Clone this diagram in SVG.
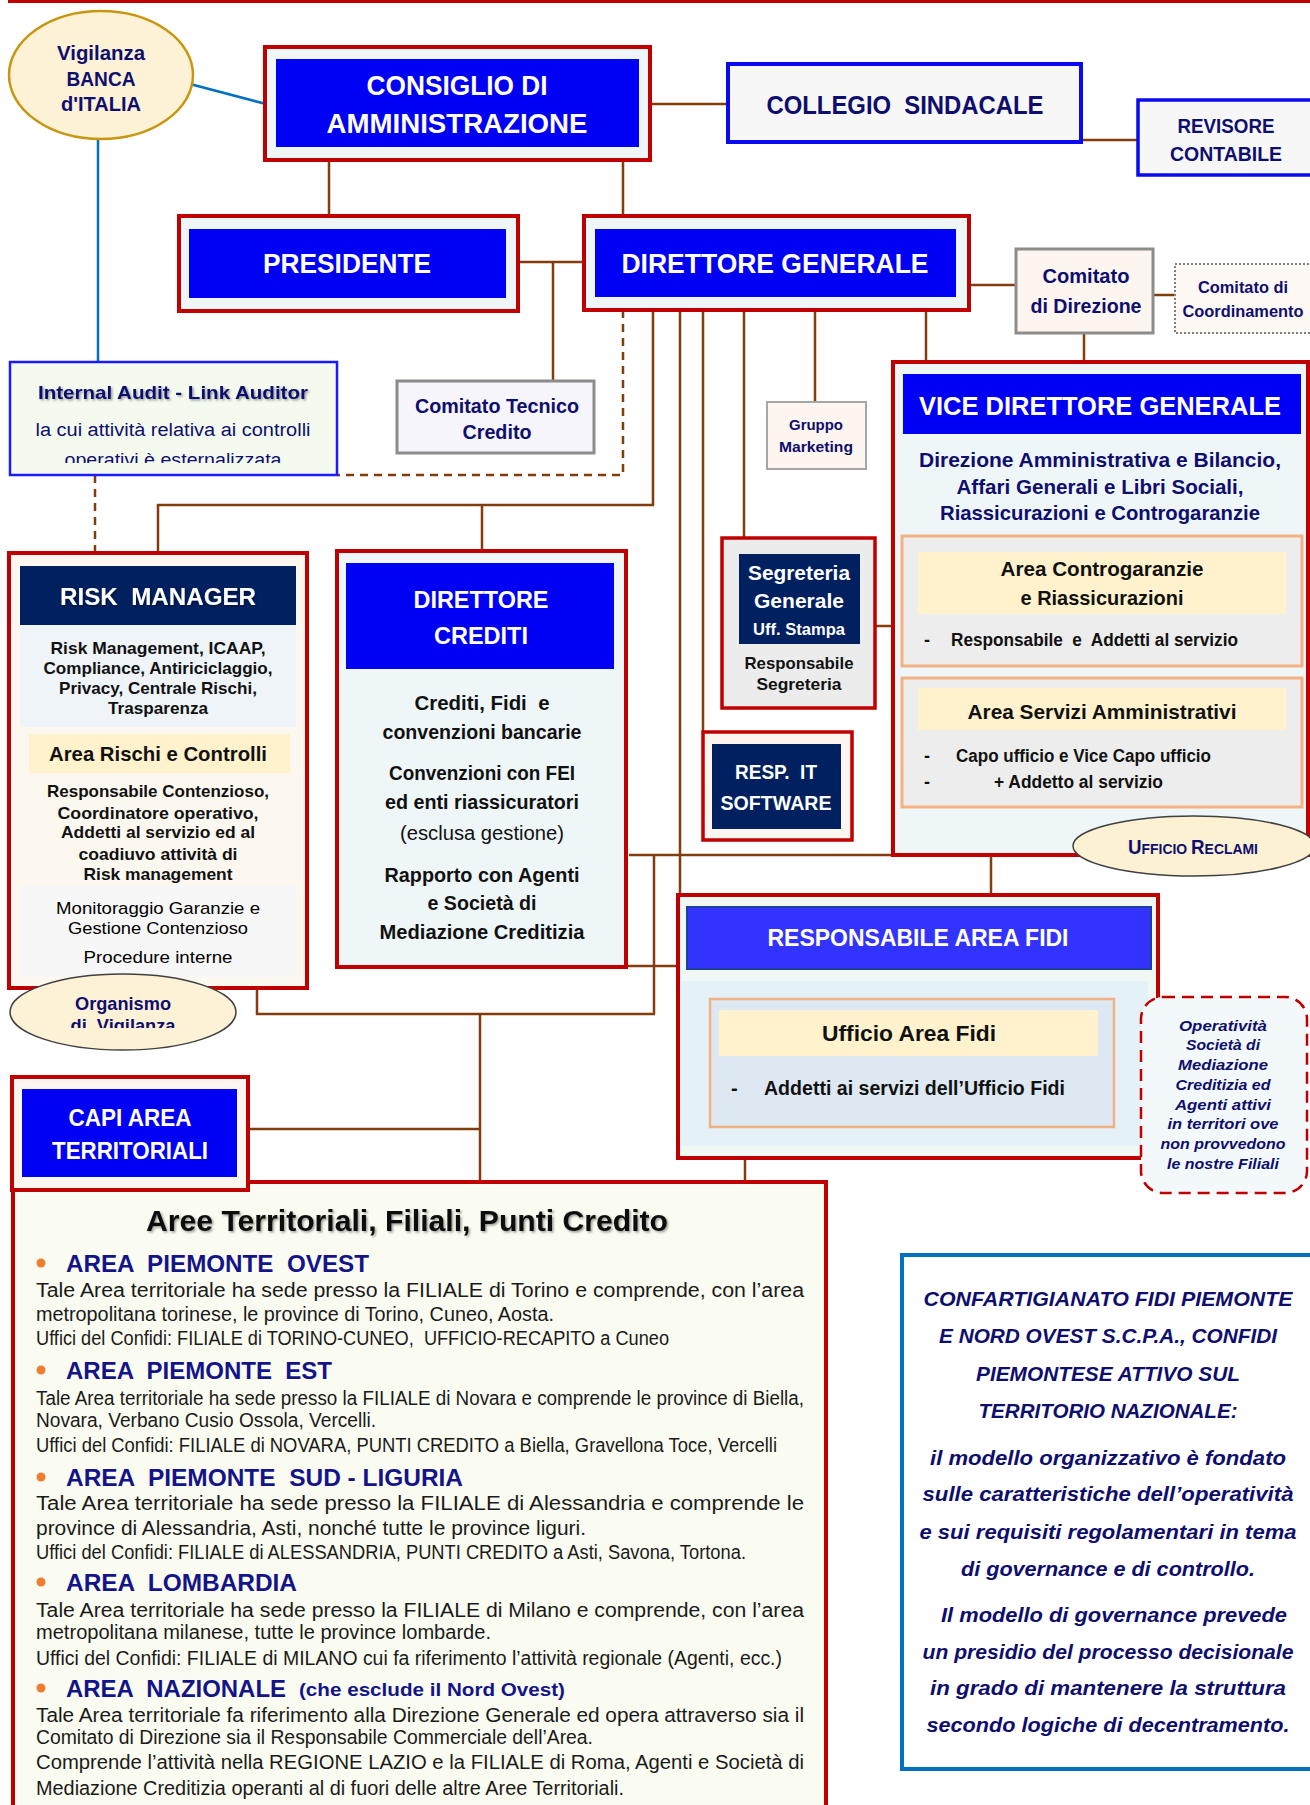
<svg xmlns="http://www.w3.org/2000/svg" width="1310" height="1805" viewBox="0 0 1310 1805">
<style>
.b{font-family:"Liberation Sans",Arial,sans-serif;font-weight:bold}
.r{font-family:"Liberation Sans",Arial,sans-serif;font-weight:normal}
.bi{font-family:"Liberation Sans",Arial,sans-serif;font-weight:bold;font-style:italic}
.c{text-anchor:middle;dominant-baseline:central}
.l{text-anchor:start;dominant-baseline:central}
.wh{fill:#ffffff}
.nv{fill:#0E0E6E}
.hd{fill:#14148A}
.bk{fill:#111111}
.tx{fill:#1A1A1A}
.con{stroke:#843C0C;stroke-width:2.5;fill:none}
.dash{stroke-dasharray:8 6}
.red{stroke:#C00000;stroke-width:4}
.blu{fill:#0000F5}
.navyf{fill:#002060}
.yel{fill:#FFF2CC}
.org{fill:#ED7D31}
</style>
<defs>
<filter id="sh" x="-10%" y="-30%" width="120%" height="160%">
<feDropShadow dx="1.5" dy="1.5" stdDeviation="1" flood-color="#000" flood-opacity="0.4"/>
</filter>
<clipPath id="clipIA"><rect x="10" y="362" width="327" height="101"/></clipPath>
<clipPath id="clipOV"><rect x="0" y="970" width="240" height="58"/></clipPath>
</defs>
<rect x="0" y="0" width="1310" height="1805" fill="#ffffff"/>
<rect x="8" y="0" width="1302" height="3" fill="#C00000"/>

<g id="connectors">
<line x1="190" y1="84" x2="266" y2="104" stroke="#0070C0" stroke-width="2.5"/>
<line x1="98" y1="140" x2="98" y2="362" stroke="#0070C0" stroke-width="2.5"/>
<line class="con" x1="650" y1="104" x2="728" y2="104"/>
<line class="con" x1="1081" y1="140" x2="1138" y2="140"/>
<line class="con" x1="329" y1="160" x2="329" y2="216"/>
<line class="con" x1="623" y1="160" x2="623" y2="216"/>
<line class="con" x1="518" y1="262" x2="584" y2="262"/>
<line class="con" x1="553" y1="262" x2="553" y2="381"/>
<line class="con" x1="969" y1="285" x2="1016" y2="285"/>
<line class="con" x1="1153" y1="295" x2="1175" y2="295"/>
<line class="con" x1="1084" y1="333" x2="1084" y2="362"/>
<polyline class="con dash" points="623,310 623,475 337,475"/>
<polyline class="con" points="653,310 653,505 158,505 158,553"/>
<line class="con" x1="482" y1="505" x2="482" y2="551"/>
<line class="con" x1="680" y1="310" x2="680" y2="895"/>
<line class="con" x1="703" y1="310" x2="703" y2="732"/>
<line class="con" x1="744" y1="310" x2="744" y2="538"/>
<line class="con" x1="815" y1="312" x2="815" y2="402"/>
<line class="con" x1="926" y1="310" x2="926" y2="362"/>
<line class="con dash" x1="95" y1="475" x2="95" y2="553"/>
<line class="con" x1="875" y1="626" x2="893" y2="626"/>
<line class="con" x1="629" y1="855" x2="893" y2="855"/>
<line class="con" x1="654" y1="855" x2="654" y2="1014"/>
<line class="con" x1="991" y1="855" x2="991" y2="895"/>
<line class="con" x1="618" y1="966" x2="679" y2="966"/>
<polyline class="con" points="257,988 257,1014 655,1014"/>
<line class="con" x1="480" y1="1014" x2="480" y2="1182"/>
<line class="con" x1="249" y1="1129" x2="480" y2="1129"/>
<line class="con" x1="745" y1="1158" x2="745" y2="1182"/>
</g>

<g id="vigilanza">
<ellipse cx="101" cy="75" rx="92" ry="64" fill="#FDF1D6" stroke="#C8960F" stroke-width="2.5"/>
<text class="b c nv" x="101" y="53" font-size="20" textLength="88" lengthAdjust="spacingAndGlyphs">Vigilanza</text>
<text class="b c nv" x="101" y="79" font-size="20" textLength="69" lengthAdjust="spacingAndGlyphs">BANCA</text>
<text class="b c nv" x="101" y="104" font-size="20" textLength="80" lengthAdjust="spacingAndGlyphs">d'ITALIA</text>
</g>

<g id="consiglio">
<rect x="265" y="47" width="385" height="113" fill="#EFF6F8" class="red"/>
<rect x="276" y="59" width="363" height="88" class="blu"/>
<text class="b c wh" x="457" y="86" font-size="27" textLength="181" lengthAdjust="spacingAndGlyphs">CONSIGLIO DI</text>
<text class="b c wh" x="457" y="124" font-size="27" textLength="261" lengthAdjust="spacingAndGlyphs">AMMINISTRAZIONE</text>
</g>

<g id="collegio">
<rect x="728" y="64" width="353" height="78" fill="#F7F7F7" stroke="#0A0AF0" stroke-width="4"/>
<text class="b c nv" x="905" y="105" font-size="26" textLength="277" lengthAdjust="spacingAndGlyphs" xml:space="preserve">COLLEGIO  SINDACALE</text>
</g>

<g id="revisore">
<rect x="1138" y="100" width="185" height="75" fill="#F7F7F7" stroke="#0A0AF0" stroke-width="3.5"/>
<text class="b c nv" x="1226" y="126" font-size="20" textLength="97" lengthAdjust="spacingAndGlyphs">REVISORE</text>
<text class="b c nv" x="1226" y="154" font-size="20" textLength="112" lengthAdjust="spacingAndGlyphs">CONTABILE</text>
</g>

<g id="presidente">
<rect x="179" y="216" width="339" height="95" fill="#EFF6F8" class="red"/>
<rect x="189" y="229" width="317" height="69" class="blu"/>
<text class="b c wh" x="347" y="264" font-size="27" textLength="168" lengthAdjust="spacingAndGlyphs">PRESIDENTE</text>
</g>

<g id="direttore-generale">
<rect x="584" y="216" width="385" height="94" fill="#EFF6F8" class="red"/>
<rect x="595" y="229" width="361" height="68" class="blu"/>
<text class="b c wh" x="775" y="264" font-size="27" textLength="307" lengthAdjust="spacingAndGlyphs">DIRETTORE GENERALE</text>
</g>

<g id="comitato-direzione">
<rect x="1016" y="249" width="137" height="84" fill="#FDF5EF" stroke="#8C8C8C" stroke-width="3"/>
<text class="b c nv" x="1086" y="276" font-size="20" textLength="87" lengthAdjust="spacingAndGlyphs">Comitato</text>
<text class="b c nv" x="1086" y="306" font-size="20" textLength="111" lengthAdjust="spacingAndGlyphs">di Direzione</text>
</g>

<g id="comitato-coordinamento">
<rect x="1175" y="264" width="145" height="69" fill="#FDF8F3" stroke="#808080" stroke-width="2" stroke-dasharray="2 2"/>
<text class="b c nv" x="1243" y="287" font-size="16" textLength="90" lengthAdjust="spacingAndGlyphs">Comitato di</text>
<text class="b c nv" x="1243" y="311" font-size="16" textLength="121" lengthAdjust="spacingAndGlyphs">Coordinamento</text>
</g>

<g id="internal-audit">
<rect x="10" y="362" width="327" height="113" fill="#F4FBEE" stroke="#1A1AFF" stroke-width="2.5"/>
<text class="b c nv" x="173" y="392" font-size="19" textLength="270" lengthAdjust="spacingAndGlyphs" filter="url(#sh)">Internal Audit - Link Auditor</text>
<text class="r c nv" x="173" y="430" font-size="18" textLength="275" lengthAdjust="spacingAndGlyphs">la cui attività relativa ai controlli</text>
<g clip-path="url(#clipIA)">
<text class="r c nv" x="173" y="460" font-size="18" textLength="217" lengthAdjust="spacingAndGlyphs">operativi è esternalizzata</text>
</g>
</g>

<g id="comitato-tecnico">
<rect x="397" y="381" width="197" height="72" fill="#F5F5FB" stroke="#8C8C8C" stroke-width="3"/>
<text class="b c nv" x="497" y="406" font-size="20" textLength="164" lengthAdjust="spacingAndGlyphs">Comitato Tecnico</text>
<text class="b c nv" x="497" y="432" font-size="20" textLength="69" lengthAdjust="spacingAndGlyphs">Credito</text>
</g>

<g id="gruppo-marketing">
<rect x="767" y="402" width="99" height="67" fill="#FDF5EF" stroke="#A6A6A6" stroke-width="2"/>
<text class="b c nv" x="816" y="424" font-size="15.5" textLength="54" lengthAdjust="spacingAndGlyphs">Gruppo</text>
<text class="b c nv" x="816" y="446" font-size="15.5" textLength="74" lengthAdjust="spacingAndGlyphs">Marketing</text>
</g>

<g id="vice-direttore">
<rect x="893" y="362" width="415" height="493" fill="#EFF6F8" class="red"/>
<rect x="903" y="374" width="398" height="60" class="blu"/>
<text class="b c wh" x="1100" y="406" font-size="26" textLength="362" lengthAdjust="spacingAndGlyphs">VICE DIRETTORE GENERALE</text>
<text class="b c nv" x="1100" y="459" font-size="20.5" textLength="362" lengthAdjust="spacingAndGlyphs">Direzione Amministrativa e Bilancio,</text>
<text class="b c nv" x="1100" y="486" font-size="20.5" textLength="287" lengthAdjust="spacingAndGlyphs">Affari Generali e Libri Sociali,</text>
<text class="b c nv" x="1100" y="512" font-size="20.5" textLength="320" lengthAdjust="spacingAndGlyphs">Riassicurazioni e Controgaranzie</text>
<rect x="902" y="536" width="400" height="130" fill="#EDEDED" stroke="#F4B183" stroke-width="3"/>
<rect x="918" y="552" width="368" height="62" class="yel"/>
<text class="b c bk" x="1102" y="568" font-size="21" textLength="203" lengthAdjust="spacingAndGlyphs">Area Controgaranzie</text>
<text class="b c bk" x="1102" y="597" font-size="21" textLength="163" lengthAdjust="spacingAndGlyphs">e Riassicurazioni</text>
<text class="b l bk" x="924" y="640" font-size="18">-</text>
<text class="b l bk" x="951" y="640" font-size="18" textLength="287" lengthAdjust="spacingAndGlyphs" xml:space="preserve">Responsabile  e  Addetti al servizio</text>
<rect x="902" y="678" width="400" height="129" fill="#EDEDED" stroke="#F4B183" stroke-width="3"/>
<rect x="918" y="688" width="368" height="42" class="yel"/>
<text class="b c bk" x="1102" y="711" font-size="21" textLength="269" lengthAdjust="spacingAndGlyphs">Area Servizi Amministrativi</text>
<text class="b l bk" x="924" y="756" font-size="18">-</text>
<text class="b l bk" x="956" y="756" font-size="18" textLength="255" lengthAdjust="spacingAndGlyphs">Capo ufficio e Vice Capo ufficio</text>
<text class="b l bk" x="924" y="782" font-size="18">-</text>
<text class="b l bk" x="994" y="782" font-size="18" textLength="169" lengthAdjust="spacingAndGlyphs">+ Addetto al servizio</text>
</g>

<g id="ufficio-reclami">
<ellipse cx="1194" cy="846" rx="121" ry="30" fill="#FDF1D3" stroke="#404040" stroke-width="1.5"/>
<text class="b nv" x="1193" y="854" text-anchor="middle" textLength="130" lengthAdjust="spacingAndGlyphs"><tspan font-size="19.5">U</tspan><tspan font-size="14.5">FFICIO </tspan><tspan font-size="19.5">R</tspan><tspan font-size="14.5">ECLAMI</tspan></text>
</g>

<g id="segreteria">
<rect x="722" y="538" width="153" height="170" fill="#ECECEC" stroke="#C00000" stroke-width="3.5"/>
<rect x="739" y="554" width="121" height="90" class="navyf"/>
<text class="b c wh" x="799" y="572" font-size="21" textLength="102" lengthAdjust="spacingAndGlyphs">Segreteria</text>
<text class="b c wh" x="799" y="600" font-size="21" textLength="90" lengthAdjust="spacingAndGlyphs">Generale</text>
<text class="b c wh" x="799" y="629" font-size="16.5" textLength="92" lengthAdjust="spacingAndGlyphs">Uff. Stampa</text>
<text class="b c bk" x="799" y="663" font-size="17" textLength="109" lengthAdjust="spacingAndGlyphs">Responsabile</text>
<text class="b c bk" x="799" y="684" font-size="17" textLength="85" lengthAdjust="spacingAndGlyphs">Segreteria</text>
</g>

<g id="resp-it">
<rect x="703" y="732" width="149" height="108" fill="#FDF5EF" stroke="#C00000" stroke-width="3.5"/>
<rect x="712" y="744" width="129" height="85" class="navyf"/>
<text class="b c wh" x="776" y="771" font-size="21" textLength="82" lengthAdjust="spacingAndGlyphs" xml:space="preserve">RESP.  IT</text>
<text class="b c wh" x="776" y="802" font-size="21" textLength="111" lengthAdjust="spacingAndGlyphs">SOFTWARE</text>
</g>

<g id="risk-manager">
<rect x="9" y="553" width="298" height="435" fill="#FCF8F0" class="red"/>
<rect x="20" y="566" width="276" height="59" class="navyf"/>
<text class="b c wh" x="158" y="596" font-size="24" textLength="196" lengthAdjust="spacingAndGlyphs" filter="url(#sh)" xml:space="preserve">RISK  MANAGER</text>
<rect x="20" y="625" width="276" height="102" fill="#EEF4F8"/>
<text class="b c bk" x="158" y="648" font-size="17" textLength="215" lengthAdjust="spacingAndGlyphs">Risk Management, ICAAP,</text>
<text class="b c bk" x="158" y="668" font-size="17" textLength="229" lengthAdjust="spacingAndGlyphs">Compliance, Antiriciclaggio,</text>
<text class="b c bk" x="158" y="688" font-size="17" textLength="198" lengthAdjust="spacingAndGlyphs">Privacy, Centrale Rischi,</text>
<text class="b c bk" x="158" y="708" font-size="17" textLength="100" lengthAdjust="spacingAndGlyphs">Trasparenza</text>
<rect x="29" y="734" width="261" height="39" class="yel"/>
<text class="b c bk" x="158" y="753" font-size="20.5" textLength="218" lengthAdjust="spacingAndGlyphs">Area Rischi e Controlli</text>
<text class="b c bk" x="158" y="791" font-size="17" textLength="222" lengthAdjust="spacingAndGlyphs">Responsabile Contenzioso,</text>
<text class="b c bk" x="158" y="813" font-size="17" textLength="201" lengthAdjust="spacingAndGlyphs">Coordinatore operativo,</text>
<text class="b c bk" x="158" y="832" font-size="17" textLength="194" lengthAdjust="spacingAndGlyphs">Addetti al servizio ed al</text>
<text class="b c bk" x="158" y="854" font-size="17" textLength="159" lengthAdjust="spacingAndGlyphs">coadiuvo attività di</text>
<text class="b c bk" x="158" y="874" font-size="17" textLength="149" lengthAdjust="spacingAndGlyphs">Risk management</text>
<rect x="20" y="885" width="276" height="92" fill="#F7F7F7"/>
<text class="r c" fill="#000" x="158" y="908" font-size="17" textLength="204" lengthAdjust="spacingAndGlyphs">Monitoraggio Garanzie e</text>
<text class="r c" fill="#000" x="158" y="928" font-size="17" textLength="180" lengthAdjust="spacingAndGlyphs">Gestione Contenzioso</text>
<text class="r c" fill="#000" x="158" y="957" font-size="17" textLength="149" lengthAdjust="spacingAndGlyphs">Procedure interne</text>
</g>

<g id="organismo-vigilanza">
<ellipse cx="123" cy="1012" rx="113" ry="38" fill="#FDF1D6" stroke="#404040" stroke-width="1.5"/>
<text class="b c nv" x="123" y="1003" font-size="19" textLength="96" lengthAdjust="spacingAndGlyphs">Organismo</text>
<g clip-path="url(#clipOV)">
<text class="b c nv" x="123" y="1025" font-size="19" textLength="105" lengthAdjust="spacingAndGlyphs" xml:space="preserve">di  Vigilanza</text>
</g>
</g>

<g id="direttore-crediti">
<rect x="337" y="551" width="289" height="416" fill="#EEF6F8" class="red"/>
<rect x="346" y="563" width="268" height="106" class="blu"/>
<text class="b c wh" x="481" y="599" font-size="24" textLength="135" lengthAdjust="spacingAndGlyphs">DIRETTORE</text>
<text class="b c wh" x="481" y="635" font-size="24" textLength="94" lengthAdjust="spacingAndGlyphs">CREDITI</text>
<text class="b c bk" x="482" y="703" font-size="20" textLength="135" lengthAdjust="spacingAndGlyphs" xml:space="preserve">Crediti, Fidi  e</text>
<text class="b c bk" x="482" y="732" font-size="20" textLength="199" lengthAdjust="spacingAndGlyphs">convenzioni bancarie</text>
<text class="b c bk" x="482" y="773" font-size="20" textLength="186" lengthAdjust="spacingAndGlyphs">Convenzioni con FEI</text>
<text class="b c bk" x="482" y="802" font-size="20" textLength="194" lengthAdjust="spacingAndGlyphs">ed enti riassicuratori</text>
<text class="r c bk" x="482" y="833" font-size="20" textLength="164" lengthAdjust="spacingAndGlyphs">(esclusa gestione)</text>
<text class="b c bk" x="482" y="875" font-size="20" textLength="195" lengthAdjust="spacingAndGlyphs">Rapporto con Agenti</text>
<text class="b c bk" x="482" y="903" font-size="20" textLength="109" lengthAdjust="spacingAndGlyphs">e Società di</text>
<text class="b c bk" x="482" y="932" font-size="20" textLength="205" lengthAdjust="spacingAndGlyphs">Mediazione Creditizia</text>
</g>

<g id="responsabile-area-fidi">
<rect x="678" y="895" width="480" height="263" fill="#EFF8F4" class="red"/>
<rect x="687" y="907" width="464" height="62" fill="#3333FF" stroke="#1F3F9F" stroke-width="2"/>
<text class="b c wh" x="918" y="938" font-size="23" textLength="301" lengthAdjust="spacingAndGlyphs">RESPONSABILE AREA FIDI</text>
<rect x="681" y="981" width="467" height="165" fill="#E4F2F7"/>
<rect x="710" y="999" width="404" height="128" fill="#DDE8F3" stroke="#F4B183" stroke-width="2.5"/>
<rect x="719" y="1010" width="379" height="46" class="yel"/>
<text class="b c bk" x="909" y="1033" font-size="22" textLength="174" lengthAdjust="spacingAndGlyphs">Ufficio Area Fidi</text>
<text class="b l bk" x="731" y="1088" font-size="20">-</text>
<text class="b l bk" x="764" y="1088" font-size="20" textLength="301" lengthAdjust="spacingAndGlyphs">Addetti ai servizi dell’Ufficio Fidi</text>
</g>

<g id="operativita">
<rect x="1141" y="997" width="166" height="196" rx="22" fill="#F3F9FA" stroke="#C00000" stroke-width="2.5" stroke-dasharray="12 7"/>
<text class="bi c nv" x="1223" y="1025" font-size="15" textLength="88" lengthAdjust="spacingAndGlyphs">Operatività</text>
<text class="bi c nv" x="1223" y="1044" font-size="15" textLength="74" lengthAdjust="spacingAndGlyphs">Società di</text>
<text class="bi c nv" x="1223" y="1064" font-size="15" textLength="90" lengthAdjust="spacingAndGlyphs">Mediazione</text>
<text class="bi c nv" x="1223" y="1084" font-size="15" textLength="95" lengthAdjust="spacingAndGlyphs">Creditizia ed</text>
<text class="bi c nv" x="1223" y="1104" font-size="15" textLength="96" lengthAdjust="spacingAndGlyphs">Agenti attivi</text>
<text class="bi c nv" x="1223" y="1123" font-size="15" textLength="111" lengthAdjust="spacingAndGlyphs">in territori ove</text>
<text class="bi c nv" x="1223" y="1143" font-size="15" textLength="125" lengthAdjust="spacingAndGlyphs">non provvedono</text>
<text class="bi c nv" x="1223" y="1163" font-size="15" textLength="112" lengthAdjust="spacingAndGlyphs">le nostre Filiali</text>
</g>

<g id="aree-territoriali">
<rect x="13" y="1182" width="813" height="640" fill="#FBFCF1" class="red"/>
<text class="b c bk" x="407" y="1221" font-size="29" textLength="522" lengthAdjust="spacingAndGlyphs" filter="url(#sh)">Aree Territoriali, Filiali, Punti Credito</text>

<circle class="org" cx="41" cy="1263" r="4.5"/>
<text class="b l hd" x="66" y="1263" font-size="24" textLength="303" lengthAdjust="spacingAndGlyphs" xml:space="preserve">AREA  PIEMONTE  OVEST</text>
<text class="r l tx" x="36" y="1290" font-size="20" textLength="768" lengthAdjust="spacingAndGlyphs">Tale Area territoriale ha sede presso la FILIALE di Torino e comprende, con l’area</text>
<text class="r l tx" x="36" y="1314" font-size="20" textLength="518" lengthAdjust="spacingAndGlyphs">metropolitana torinese, le province di Torino, Cuneo, Aosta.</text>
<text class="r l tx" x="36" y="1338" font-size="20" textLength="633" lengthAdjust="spacingAndGlyphs" xml:space="preserve">Uffici del Confidi: FILIALE di TORINO-CUNEO,  UFFICIO-RECAPITO a Cuneo</text>

<circle class="org" cx="41" cy="1370" r="4.5"/>
<text class="b l hd" x="66" y="1370" font-size="24" textLength="266" lengthAdjust="spacingAndGlyphs" xml:space="preserve">AREA  PIEMONTE  EST</text>
<text class="r l tx" x="36" y="1398" font-size="20" textLength="768" lengthAdjust="spacingAndGlyphs">Tale Area territoriale ha sede presso la FILIALE di Novara e comprende le province di Biella,</text>
<text class="r l tx" x="36" y="1420" font-size="20" textLength="340" lengthAdjust="spacingAndGlyphs">Novara, Verbano Cusio Ossola, Vercelli.</text>
<text class="r l tx" x="36" y="1445" font-size="20" textLength="741" lengthAdjust="spacingAndGlyphs">Uffici del Confidi: FILIALE di NOVARA, PUNTI CREDITO a Biella, Gravellona Toce, Vercelli</text>

<circle class="org" cx="41" cy="1477" r="4.5"/>
<text class="b l hd" x="66" y="1477" font-size="24" textLength="397" lengthAdjust="spacingAndGlyphs" xml:space="preserve">AREA  PIEMONTE  SUD - LIGURIA</text>
<text class="r l tx" x="36" y="1503" font-size="20" textLength="768" lengthAdjust="spacingAndGlyphs">Tale Area territoriale ha sede presso la FILIALE di Alessandria e comprende le</text>
<text class="r l tx" x="36" y="1528" font-size="20" textLength="550" lengthAdjust="spacingAndGlyphs">province di Alessandria, Asti, nonché tutte le province liguri.</text>
<text class="r l tx" x="36" y="1552" font-size="20" textLength="710" lengthAdjust="spacingAndGlyphs">Uffici del Confidi: FILIALE di ALESSANDRIA, PUNTI CREDITO a Asti, Savona, Tortona.</text>

<circle class="org" cx="41" cy="1582" r="4.5"/>
<text class="b l hd" x="66" y="1582" font-size="24" textLength="231" lengthAdjust="spacingAndGlyphs" xml:space="preserve">AREA  LOMBARDIA</text>
<text class="r l tx" x="36" y="1610" font-size="20" textLength="768" lengthAdjust="spacingAndGlyphs">Tale Area territoriale ha sede presso la FILIALE di Milano e comprende, con l’area</text>
<text class="r l tx" x="36" y="1632" font-size="20" textLength="455" lengthAdjust="spacingAndGlyphs">metropolitana milanese, tutte le province lombarde.</text>
<text class="r l tx" x="36" y="1658" font-size="20" textLength="746" lengthAdjust="spacingAndGlyphs">Uffici del Confidi: FILIALE di MILANO cui fa riferimento l’attività regionale (Agenti, ecc.)</text>

<circle class="org" cx="41" cy="1688" r="4.5"/>
<text class="b l hd" x="66" y="1688" font-size="24" textLength="220" lengthAdjust="spacingAndGlyphs" xml:space="preserve">AREA  NAZIONALE</text>
<text class="b l hd" x="299" y="1689" font-size="19" textLength="266" lengthAdjust="spacingAndGlyphs">(che esclude il Nord Ovest)</text>
<text class="r l tx" x="36" y="1715" font-size="20" textLength="768" lengthAdjust="spacingAndGlyphs">Tale Area territoriale fa riferimento alla Direzione Generale ed opera attraverso sia il</text>
<text class="r l tx" x="36" y="1737" font-size="20" textLength="557" lengthAdjust="spacingAndGlyphs">Comitato di Direzione sia il Responsabile Commerciale dell’Area.</text>
<text class="r l tx" x="36" y="1762" font-size="20" textLength="768" lengthAdjust="spacingAndGlyphs">Comprende l’attività nella REGIONE LAZIO e la FILIALE di Roma, Agenti e Società di</text>
<text class="r l tx" x="36" y="1788" font-size="20" textLength="588" lengthAdjust="spacingAndGlyphs">Mediazione Creditizia operanti al di fuori delle altre Aree Territoriali.</text>
</g>

<g id="capi-area">
<rect x="12" y="1077" width="236" height="113" fill="#FCF6F0" class="red"/>
<rect x="22" y="1089" width="215" height="88" class="blu"/>
<text class="b c wh" x="130" y="1118" font-size="23" textLength="123" lengthAdjust="spacingAndGlyphs">CAPI AREA</text>
<text class="b c wh" x="130" y="1151" font-size="23" textLength="156" lengthAdjust="spacingAndGlyphs">TERRITORIALI</text>
</g>

<g id="nota-confidi">
<rect x="902" y="1255" width="425" height="514" fill="#ffffff" stroke="#0070C0" stroke-width="4"/>
<text class="bi c nv" x="1108" y="1298" font-size="21" textLength="369" lengthAdjust="spacingAndGlyphs">CONFARTIGIANATO FIDI PIEMONTE</text>
<text class="bi c nv" x="1108" y="1335" font-size="21" textLength="338" lengthAdjust="spacingAndGlyphs">E NORD OVEST S.C.P.A., CONFIDI</text>
<text class="bi c nv" x="1108" y="1373" font-size="21" textLength="264" lengthAdjust="spacingAndGlyphs">PIEMONTESE ATTIVO SUL</text>
<text class="bi c nv" x="1108" y="1410" font-size="21" textLength="259" lengthAdjust="spacingAndGlyphs">TERRITORIO NAZIONALE:</text>
<text class="bi c nv" x="1108" y="1457" font-size="21" textLength="356" lengthAdjust="spacingAndGlyphs">il modello organizzativo è fondato</text>
<text class="bi c nv" x="1108" y="1493" font-size="21" textLength="371" lengthAdjust="spacingAndGlyphs">sulle caratteristiche dell’operatività</text>
<text class="bi c nv" x="1108" y="1531" font-size="21" textLength="377" lengthAdjust="spacingAndGlyphs">e sui requisiti regolamentari in tema</text>
<text class="bi c nv" x="1108" y="1568" font-size="21" textLength="294" lengthAdjust="spacingAndGlyphs">di governance e di controllo.</text>
<text class="bi c nv" x="1114" y="1614" font-size="21" textLength="346" lengthAdjust="spacingAndGlyphs">Il modello di governance prevede</text>
<text class="bi c nv" x="1108" y="1651" font-size="21" textLength="371" lengthAdjust="spacingAndGlyphs">un presidio del processo decisionale</text>
<text class="bi c nv" x="1108" y="1687" font-size="21" textLength="356" lengthAdjust="spacingAndGlyphs">in grado di mantenere la struttura</text>
<text class="bi c nv" x="1108" y="1724" font-size="21" textLength="363" lengthAdjust="spacingAndGlyphs">secondo logiche di decentramento.</text>
</g>
</svg>
